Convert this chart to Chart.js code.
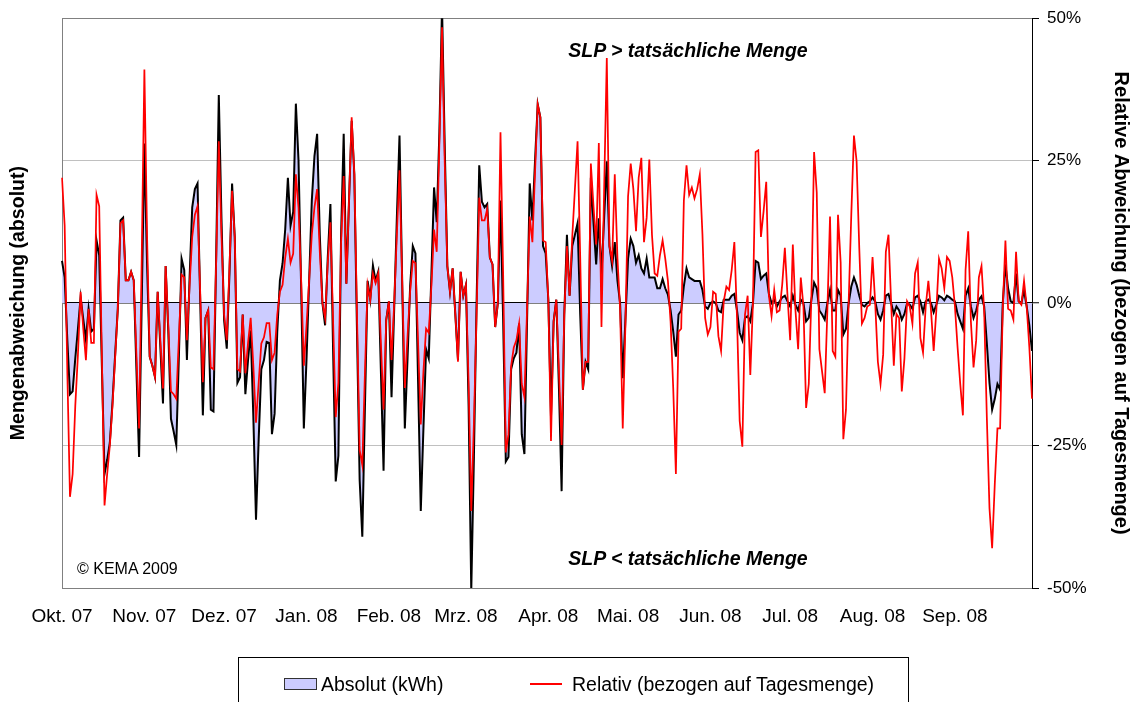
<!DOCTYPE html>
<html lang="de">
<head>
<meta charset="utf-8">
<title>Mengenabweichung SLP Okt. 07 - Sep. 08</title>
<script src="https://cdn.jsdelivr.net/npm/chart.js@4.4.1/dist/chart.umd.min.js"></script>
<style>
  html, body { margin: 0; padding: 0; background: #fff; }
  body { width: 1137px; height: 702px; position: relative; overflow: hidden;
         font-family: "Liberation Sans", Arial, sans-serif; color: #000; }
  #chart { position: absolute; left: 0; top: 0; }
  .note { position: absolute; left: 688px; transform: translateX(-50%);
          font-weight: bold; font-style: italic; font-size: 19.5px; line-height: 22px; white-space: nowrap; }
  .copy { position: absolute; left: 77px; top: 560px; font-size: 16px; line-height: 18px; }
  .legend { position: absolute; left: 238px; top: 657px; width: 671px; height: 60px;
            border: 1px solid #000; box-sizing: border-box; font-size: 19.5px; }
  .legend .item { position: absolute; top: 15px; line-height: 22px; white-space: nowrap; }
  .legend .box { position: absolute; width: 33px; height: 12px; background: #ccccff;
                 border: 1px solid #333; box-sizing: border-box; }
  .legend .line { position: absolute; width: 32px; height: 2px; background: #ff0000; }
</style>
</head>
<body>
<canvas id="chart" width="1137" height="702"></canvas>

<div class="note" style="top:39px">SLP &gt; tatsächliche Menge</div>
<div class="note" style="top:547px">SLP &lt; tatsächliche Menge</div>
<div class="copy">© KEMA 2009</div>

<div class="legend" id="legend"></div>

<script>
// ---------- Data (one value per day, 01.10.2007 - 30.09.2008) ----------
const START_DATE = "2007-10-01";

const MONTH_LABELS = ["Okt. 07", "Nov. 07", "Dez. 07", "Jan. 08", "Feb. 08", "Mrz. 08",
                      "Apr. 08", "Mai. 08", "Jun. 08", "Jul. 08", "Aug. 08", "Sep. 08"];

const RELATIV_TICKS = [-50, -25, 0, 25, 50];

// Relativ (bezogen auf Tagesmenge), in %
const RELATIV = [
  22, 13.6, -12, -34, -30, -18, -9, 2, -4.5, -10,
  -1, -7, -7, 19, 17, -9.4, -35.5, -30, -25, -18,
  -9.6, -1, 14, 14.5, 4, 4, 5.5, 4, -9, -22,
  8, 41, 12, -9.4, -11, -13, 2, -6.5, -15, 6.5,
  -4, -15.5, -16, -16.8, -6, 5, 4.5, -6.5, 3, 11.6,
  15.5, 17, 2, -13.9, -2.6, -1.3, -11.3, -11.6, 7, 28.4,
  12, -2, -6.5, 6, 19.7, 11.6, -11.6, -12, -2, -12.3,
  -7, -2.6, -11, -21, -14, -7.1, -6, -3.5, -3.5, -10,
  -8.7, -2, 2, 3.2, 8, 11.3, 7.1, 8.7, 22.6, 16.7,
  4, -11, -4, 4, 12, 16.8, 20, 9, 0, -2.6,
  7, 14.2, -3, -20, -14, 10.3, 22.3, 3.4, 18, 32.6,
  22.6, -2, -25.8, -28.4, -12, 3.2, 0.6, 5.2, 3.5, 5.2,
  -7, -18.7, -3, 0.3, -10, 0, 12, 23.3, 4, -14.9,
  -6, 2, 7.4, 7, -7, -21.3, -12, -4.5, -5.2, 3,
  12.9, 9, 28, 48.4, 25, 6.5, 2, 6.1, -2, -10.3,
  5.5, 1.3, 3.2, -14, -36.5, -21, -2, 18.5, 14.5, 14.5,
  16.5, 8, 6.8, -4.2, 0, 30, 5, -26.2, -23, -11,
  -7.8, -6.5, -3.6, -14.2, -16.5, -1, 15.2, 10.7, 23, 34.9,
  32.6, 11, 10.7, 0.6, -24.2, -3.2, 0.6, -12, -24.9, -2,
  10, 1.3, 11.6, 20, 28.4, 8, -15.2, -10.3, -10.3, 24.5,
  17, 10.3, 28.1, -4.2, 20, 43, 10, 7.4, 22.6, 8,
  -1, -22, -4, 18.7, 24.5, 20, 12.6, 22, 25.5, 10.7,
  15, 25.2, 12, 5.2, 4.8, 8.4, 11, 7.8, 3.9, -3.2,
  -15, -30, -5, -4.5, 18, 24.2, 19, 20.3, 18.4, 20,
  22.6, 12, -2.6, -5.5, -4.2, 2, 1.6, -5.8, -8.4, 0.3,
  2.9, 2.3, 5.8, 10.7, -2.6, -20.7, -25.2, -2, 1.3, -12.6,
  0, 26.5, 26.8, 11.6, 16.1, 21.3, 1.3, -2.3, 2.3, -1.6,
  -1.3, 3.2, 9.7, 1.3, -6.5, 10.3, -1.3, -8.1, 4.5, -0.6,
  -18.4, -14.2, 1.3, 26.5, 19.4, -8.1, -12, -15.8, -1.3, 15.2,
  -8.4, -9.4, 15.5, 7.1, -23.9, -18.7, 0, 15.5, 29.4, 24.9,
  9.7, -3.6, -2.6, -0.6, -0.3, 8.1, 0, -10.3, -14.2, -9,
  9, 12, 0, -11, -1.9, -2.6, -15.5, -9.7, 0.3, -0.6,
  -3.6, 5.2, 7.1, -6.1, -8.7, -0.6, 3.9, -1.3, -8.4, -1.3,
  7.8, 6.1, 2.6, 8.1, 7.4, 4.5, -0.6, -7.8, -14.2, -19.7,
  5.8, 12.6, -3.2, -11.3, -6.5, 4.5, 6.5, -1.3, -20, -36,
  -43, -31.7, -22, -22, -1, 11, -1, -1.3, -2.9, 9,
  0.3, -0.3, 3.9, -0.6, -7.8, -16.8
];

// Absolut (kWh), on the left axis (no tick labels in the original)
const ABSOLUT = [
  7.4, 4.5, -6.5, -16, -15.5, -9.7, -4.5, 1, -2.8, -6.5,
  -1, -5, -4.5, 11, 8.4, -11, -30, -27.5, -24.5, -17.4,
  -9, -1, 14.5, 15, 4, 4, 5.5, 4, -11.6, -27,
  0, 28, 7, -9.4, -11, -13, 2, -7.7, -17.6, 6.5,
  -5, -20.3, -22.5, -24.9, -9, 7.8, 5.8, -10, 4.3, 16.8,
  20, 21, 0.6, -19.7, -2.6, -1.3, -18.7, -19, 8, 36.5,
  15, -3, -8, 5, 21, 11.6, -14, -13, -2, -16,
  -10, -4.8, -20, -38, -24, -11.6, -10, -6.8, -7, -23,
  -19.4, -5, 4, 7, 13, 22, 13.6, 16, 35, 25,
  2.5, -22, -10, 4, 18, 25.8, 29.7, 12, 0, -3.9,
  8, 17.4, -8, -31.3, -26.8, 11.6, 29.7, 3.4, 18, 32,
  22.6, -5, -31, -41, -18, 3.9, 0.6, 6.6, 3.9, 5.5,
  -12, -29.4, -3, 0.3, -16.5, -1, 15, 29.4, 4, -22,
  -10, 3, 10, 8.7, -14, -36.5, -22, -8.1, -9.7, 5,
  20.3, 14.2, 30, 52, 28, 6.5, 2, 6.1, -2, -10,
  5.5, 1.3, 3.2, -18, -50.4, -27, 0, 24.2, 17.8, 16.8,
  17.4, 8, 6.8, -4.2, 0, 18, -3, -27.8, -27, -11.6,
  -9.7, -8.7, -3.6, -23, -26.5, -3, 21, 14.5, 25, 34.9,
  32.6, 10, 8.7, 0.6, -20, -3.2, 0.6, -15, -33, -2,
  12, 1.3, 10, 12, 14, -2, -15.2, -10.3, -11.6, 22,
  14, 6.8, 14.9, 5, 15, 24.9, 10, 6.5, 10.7, 4,
  0, -13.2, -3, 7.8, 11.3, 10, 7.1, 8.4, 6.1, 5.2,
  7.8, 4.5, 4.5, 4.5, 2.6, 2.6, 4.2, 2.6, 1.5, -1.3,
  -5, -9.4, -2, -1.3, 3, 6.1, 4.5, 4.2, 3.9, 3.9,
  3.9, 2.3, -0.6, -1, 0, 0.3, 0, -1.3, -1.6, 0.6,
  0.6, 0.6, 1.3, 1.6, -1.3, -5.2, -6.5, -2.6, -2.3, -3.2,
  0, 7.4, 7.1, 4.2, 4.8, 5.2, 1.6, 0, 0.6, -0.6,
  0.3, 1, 1.3, 0.3, -0.6, 1.3, -0.3, -1.3, 0.6, 0,
  -3.2, -2.6, 0.6, 3.6, 2.6, -1.3, -2, -2.9, 0, 2.3,
  -1.3, -1.3, 2.3, 1.3, -5.5, -4.5, 0, 2.9, 4.5, 3.2,
  1.3, -0.3, -0.6, 0, 0.3, 1, 0.3, -1.9, -2.9, -1.3,
  1.3, 1.6, 0, -1.9, -0.6, -1.3, -2.9, -1.9, 0, -0.3,
  -1, 1, 1.3, 0.3, -1.6, 0.3, 0.6, 0, -1.6, -0.3,
  1.3, 1, 0.5, 1.3, 1, 0.6, 0.3, -1.9, -3.2, -4.5,
  1.3, 2.6, -0.6, -2.6, -1.3, 0.6, 1.2, -0.6, -7, -14,
  -18.7, -16.8, -14.2, -15.2, 0, 6.8, 2.6, 0.3, 0, 5.2,
  0.3, 0, 2.3, -0.6, -3.9, -8.4
];

// ---------- Categories: one label per day ----------
const DAYS = ABSOLUT.map((_, i) => {
  const d = new Date(START_DATE + "T00:00:00Z");
  d.setUTCDate(d.getUTCDate() + i);
  return d.toISOString().slice(0, 10);
});

function monthLabel(index) {
  const day = DAYS[index];
  if (!day || !day.endsWith("-01")) return "";
  const [y, m] = day.split("-").map(Number);
  return MONTH_LABELS[(y - 2007) * 12 + m - 10] || "";
}

// ---------- Legend ----------
const LEGEND = [
  { label: "Absolut (kWh)", kind: "box", left: 45, textLeft: 82 },
  { label: "Relativ (bezogen auf Tagesmenge)", kind: "line", left: 291, textLeft: 333 }
];

document.getElementById("legend").innerHTML = LEGEND.map(l => `
  <span class="${l.kind}" style="left:${l.left}px; top:${l.kind === "box" ? 20 : 25}px"></span>
  <span class="item" style="left:${l.textLeft}px">${l.label}</span>`).join("");

// ---------- Chart ----------
Chart.defaults.font.family = '"Liberation Sans", Arial, sans-serif';
Chart.defaults.color = "#000";

new Chart(document.getElementById("chart"), {
  type: "line",
  data: {
    labels: DAYS,
    datasets: [
      {
        label: "Absolut (kWh)",
        data: ABSOLUT,
        yAxisID: "yA",
        borderColor: "#000000",
        borderWidth: 2,
        backgroundColor: "#ccccff",
        fill: "origin",
        pointRadius: 0,
        tension: 0,
        order: 2
      },
      {
        label: "Relativ (bezogen auf Tagesmenge)",
        data: RELATIV,
        yAxisID: "yR",
        borderColor: "#ff0000",
        borderWidth: 1.75,
        fill: false,
        pointRadius: 0,
        tension: 0,
        order: 1
      }
    ]
  },
  options: {
    responsive: false,
    devicePixelRatio: 1,
    animation: false,
    layout: { padding: { left: 3, right: 0, top: 18, bottom: 0 } },
    plugins: { legend: { display: false }, tooltip: { enabled: false } },
    scales: {
      x: {
        type: "category",
        offset: false,
        grid: { display: false, drawTicks: false },
        border: { display: true, color: "#808080", width: 1 },
        ticks: {
          autoSkip: false, maxRotation: 0, minRotation: 0,
          padding: 17, font: { size: 19 },
          callback: (value, index) => monthLabel(index)
        },
        afterFit: s => { s.height = 114; }
      },
      yA: {
        position: "left",
        min: -50, max: 50,
        ticks: { display: false },
        grid: { display: false, drawTicks: false },
        border: { display: true, color: "#808080", width: 1 },
        title: {
          display: true, text: "Mengenabweichung (absolut)",
          font: { size: 19.5, weight: "bold" }, padding: { top: 4, bottom: 4 }
        },
        afterFit: s => { s.width = 59; }
      },
      yR: {
        position: "right",
        min: -50, max: 50,
        afterBuildTicks: s => { s.ticks = RELATIV_TICKS.map(v => ({ value: v })); },
        ticks: { font: { size: 17 }, padding: 8, callback: v => v + "%" },
        grid: {
          color: c => c.tick.value === 0 ? "#000000" : (Math.abs(c.tick.value) === 50 ? "#808080" : "#c0c0c0"),
          lineWidth: c => c.tick.value === 0 ? 1.5 : 1,
          drawTicks: true, tickLength: 7, tickColor: "#000000", tickWidth: 1
        },
        border: { display: true, color: "#000000", width: 1 },
        title: {
          display: true, text: "Relative Abweichung (bezogen auf Tagesmenge)",
          font: { size: 20, weight: "bold" }, padding: { top: 4, bottom: 4 }
        },
        afterFit: s => { s.width = 105; }
      }
    }
  }
});
</script>
</body>
</html>
